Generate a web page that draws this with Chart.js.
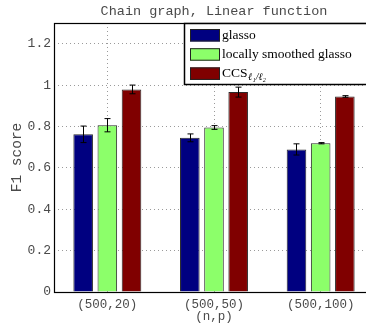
<!DOCTYPE html>
<html>
<head>
<meta charset="utf-8">
<script src="https://cdn.jsdelivr.net/npm/chart.js@4.4.1/dist/chart.umd.min.js"></script>
<style>
  html, body { margin: 0; padding: 0; background: #fff; overflow: hidden; }
  #wrap { width: 374px; height: 332px; }
</style>
</head>
<body>
<div id="wrap"><canvas id="c" width="374" height="332"></canvas></div>
<script>
// Sample sizes (n,p)
const categories = ['(500,20)', '(500,50)', '(500,100)'];

// Mean F1 score per method
const glassoF1   = [0.762, 0.745, 0.689];
const smoothedF1 = [0.806, 0.795, 0.719];
const ccsF1      = [0.979, 0.966, 0.945];

// Half-width of the error bars
const glassoErr   = [0.040, 0.019, 0.027];
const smoothedErr = [0.032, 0.009, 0.003];
const ccsErr      = [0.021, 0.024, 0.004];

const yTicks = [0, 0.2, 0.4, 0.6, 0.8, 1, 1.2];

const MONO = '"Liberation Mono", "DejaVu Sans Mono", monospace';
const SERIF = '"Liberation Serif", "DejaVu Serif", serif';
const TEXT_GREY = '#4a4a4a';

const errorBars = {
  id: 'errorBars',
  afterDatasetsDraw(chart) {
    const ctx = chart.ctx;
    const y = chart.scales.y;
    ctx.save();
    ctx.strokeStyle = '#000';
    ctx.lineWidth = 1;
    chart.data.datasets.forEach((ds, di) => {
      const meta = chart.getDatasetMeta(di);
      meta.data.forEach((bar, i) => {
        const v = ds.data[i], e = ds.errors[i];
        const x = Math.round(bar.x) + 0.5;
        const yHi = y.getPixelForValue(v + e);
        const yLo = y.getPixelForValue(v - e);
        ctx.beginPath();
        ctx.moveTo(x, yHi); ctx.lineTo(x, yLo);
        ctx.moveTo(x - 3, yHi); ctx.lineTo(x + 3, yHi);
        ctx.moveTo(x - 3, yLo); ctx.lineTo(x + 3, yLo);
        ctx.stroke();
      });
    });
    ctx.restore();
  }
};

const frameAndText = {
  id: 'frameAndText',
  afterDraw(chart) {
    const ctx = chart.ctx;
    const a = chart.chartArea;
    ctx.save();
    // axes box
    ctx.strokeStyle = '#000';
    ctx.lineWidth = 1.2;
    ctx.strokeRect(a.left + 0.5, a.top + 0.5, a.right - a.left - 1, a.bottom - a.top);

    // title
    ctx.fillStyle = TEXT_GREY;
    ctx.font = '13.5px ' + MONO;
    ctx.textAlign = 'center';
    ctx.textBaseline = 'middle';
    ctx.fillText('Chain graph, Linear function', (a.left + a.right) / 2, 11);

    // x axis title
    ctx.font = '12.5px ' + MONO;
    ctx.fillText('(n,p)', (a.left + a.right) / 2, a.bottom + 25);

    // y axis title
    ctx.save();
    ctx.translate(17, (a.top + a.bottom) / 2);
    ctx.rotate(-Math.PI / 2);
    ctx.font = '14.5px ' + MONO;
    ctx.fillText('F1 score', 0, 0);
    ctx.restore();

    // legend
    const lx = 184, ly = a.top, lw = 200, lh = 61;
    ctx.fillStyle = '#fff';
    ctx.fillRect(lx, ly, lw, lh);
    ctx.strokeStyle = '#000';
    ctx.lineWidth = 1.5;
    ctx.strokeRect(lx + 0.5, ly + 0.5, lw, lh);
    const rowH = 19.2;
    chart.data.datasets.forEach((ds, i) => {
      const cy = ly + 12 + i * rowH;
      ctx.fillStyle = ds.backgroundColor;
      ctx.fillRect(lx + 6, cy - 6, 30, 12.5);
      ctx.strokeStyle = '#222';
      ctx.lineWidth = 1;
      ctx.strokeRect(lx + 6.5, cy - 5.5, 29, 11.5);
      ctx.fillStyle = '#000';
      ctx.textAlign = 'left';
      ctx.textBaseline = 'alphabetic';
      ctx.font = '13.5px ' + SERIF;
      const tx = lx + 38, by = cy + 3.5;
      ctx.fillText(ds.label, tx, by);
      if (ds.sub) {
        const w = ctx.measureText(ds.label).width;
        ctx.font = 'italic 10px ' + SERIF;
        ctx.fillText(ds.sub, tx + w + 0.5, by + 3.5);
      }
    });
    ctx.restore();
  }
};

const dotted = {
  color: '#9a9a9a',
  lineWidth: 1,
  drawTicks: false
};

new Chart(document.getElementById('c'), {
  type: 'bar',
  data: {
    labels: categories,
    datasets: [
      { label: 'glasso', data: glassoF1, errors: glassoErr,
        backgroundColor: '#000080', borderColor: '#2a2a2a', borderWidth: 1 },
      { label: 'locally smoothed glasso', data: smoothedF1, errors: smoothedErr,
        backgroundColor: '#8cff6a', borderColor: '#2a2a2a', borderWidth: 1 },
      { label: 'CCS', sub: 'ℓ₁/ℓ₂', data: ccsF1, errors: ccsErr,
        backgroundColor: '#800000', borderColor: '#2a2a2a', borderWidth: 1 }
    ]
  },
  options: {
    responsive: false,
    animation: false,
    devicePixelRatio: 1,
    layout: { padding: { top: 23, left: 0, right: 0, bottom: 0 } },
    datasets: { bar: { categoryPercentage: 0.68, barPercentage: 0.81 } },
    plugins: {
      legend: { display: false },
      title: { display: false },
      tooltip: { enabled: false }
    },
    scales: {
      x: {
        offset: true,
        grid: Object.assign({ offset: false }, dotted),
        border: { display: false, dash: [1, 3] },
        ticks: { color: TEXT_GREY, font: { family: MONO, size: 12.5 }, padding: 5, maxRotation: 0 },
        afterFit(s) { s.height = 40; }
      },
      y: {
        min: 0, max: 1.3,
        afterBuildTicks(s) { s.ticks = yTicks.map(v => ({ value: v })); },
        grid: Object.assign({}, dotted),
        border: { display: false, dash: [1, 3] },
        ticks: {
          color: TEXT_GREY, font: { family: MONO, size: 13 }, padding: 3,
          callback: v => String(v)
        },
        afterFit(s) { s.width = 54; }
      }
    }
  },
  plugins: [errorBars, frameAndText]
});
</script>
</body>
</html>
